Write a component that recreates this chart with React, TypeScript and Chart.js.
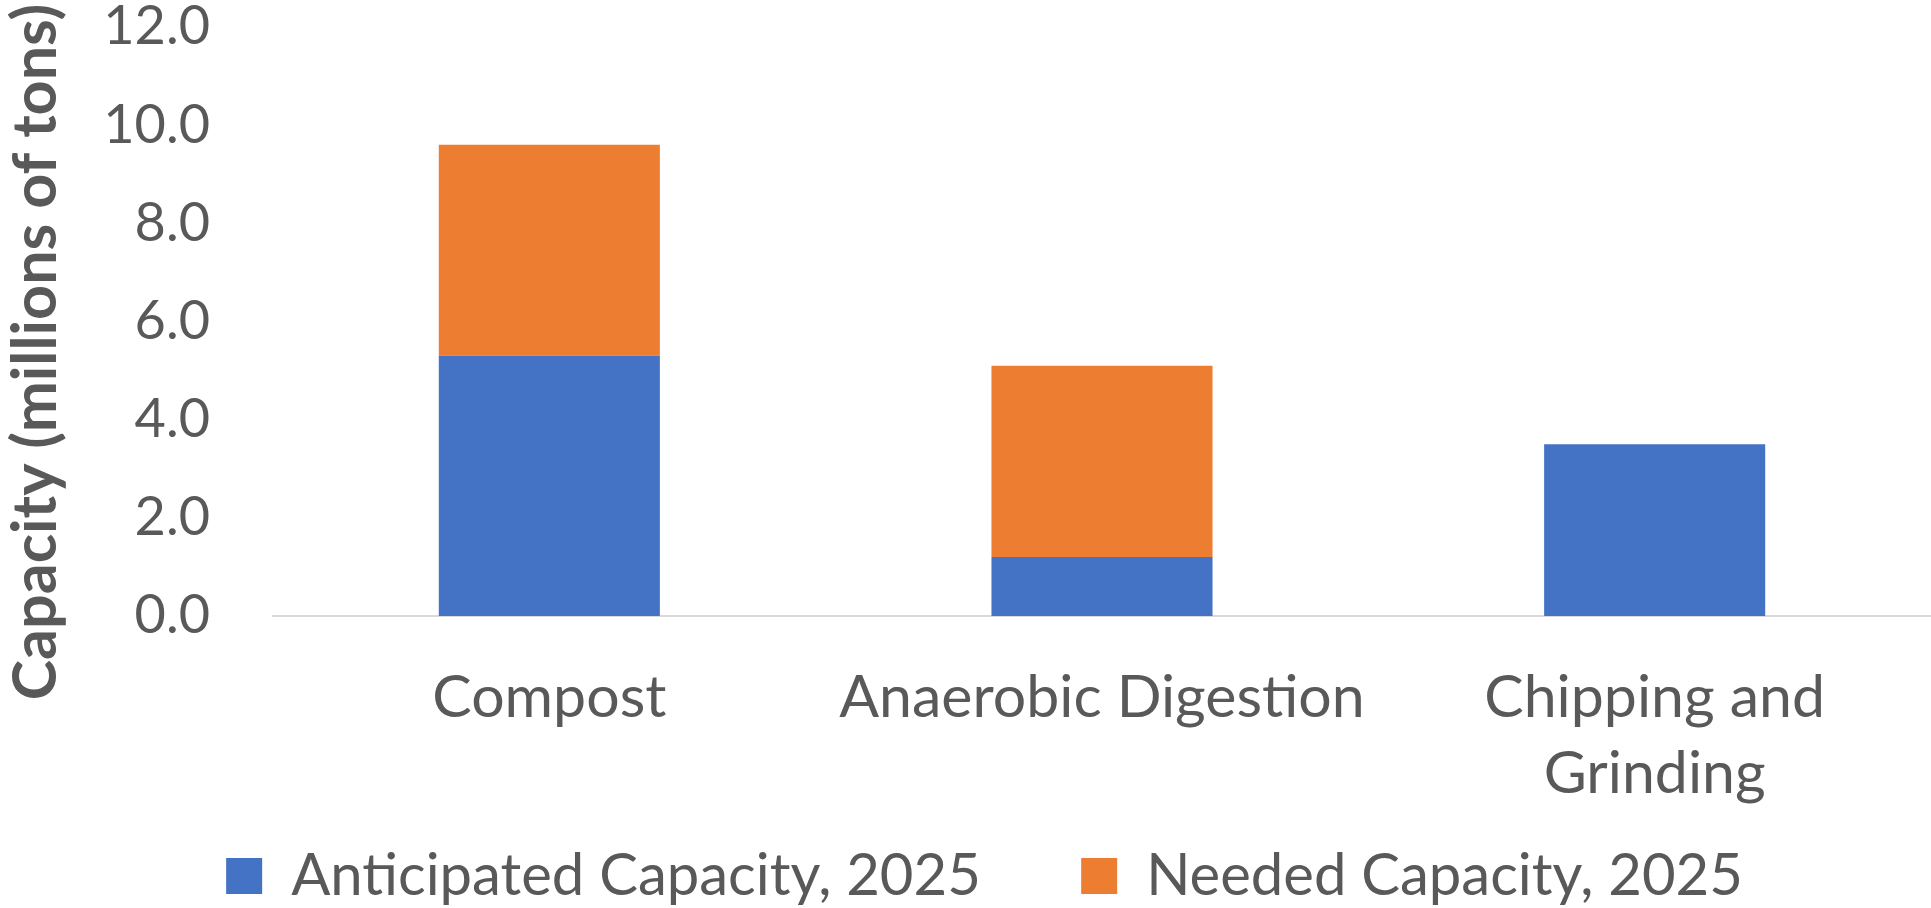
import React, { useEffect, useRef } from "react";
import { Chart, registerables } from "chart.js";

Chart.register(...registerables);

const categories: (string | string[])[] = ["Compost", "Anaerobic Digestion", ["Chipping and", "Grinding"]];
const anticipated = [5.3, 1.2, 3.5];
const needed = [4.3, 3.9, 0];
const seriesNames = ["Anticipated Capacity, 2025", "Needed Capacity, 2025"];
const seriesColors = ["#4472C4", "#ED7D31"];
const yTitle = "Capacity (millions of tons)";
const yMin = 0;
const yMax = 12;
const yStep = 2;

const TEXT = "#595959";
const FONT = "Lato";

const yTitlePlugin = {
  id: "yTitlePlugin",
  afterDraw(chart: any) {
    const ctx = chart.ctx;
    ctx.save();
    ctx.translate(36, 352);
    ctx.rotate(-Math.PI / 2);
    ctx.font = `bold 61px ${FONT}`;
    ctx.fillStyle = TEXT;
    ctx.textAlign = "center";
    ctx.textBaseline = "middle";
    ctx.fillText(yTitle, 0, 0);
    ctx.restore();
  },
};

export default function App() {
  const ref = useRef<HTMLCanvasElement | null>(null);
  useEffect(() => {
    document.body.style.margin = "0";
    const chart = new Chart(ref.current!, {
      type: "bar",
      data: {
        labels: categories as any,
        datasets: [
          { label: seriesNames[0], data: anticipated, backgroundColor: seriesColors[0], borderWidth: 0 },
          { label: seriesNames[1], data: needed, backgroundColor: seriesColors[1], borderWidth: 0 },
        ],
      },
      options: {
        animation: false,
        responsive: false,
        devicePixelRatio: 1,
        layout: { padding: { left: 38, top: 27, right: 0, bottom: -7 } },
        datasets: { bar: { barPercentage: 0.4, categoryPercentage: 1 } },
        plugins: {
          tooltip: { enabled: false },
          legend: {
            position: "bottom",
            labels: {
              color: TEXT,
              font: { family: FONT, size: 58 },
              boxWidth: 36,
              boxHeight: 36,
              padding: 41,
              generateLabels(chart: any) {
                const items = Chart.defaults.plugins.legend.labels.generateLabels(chart);
                return items.map((it: any, i: number) =>
                  i < items.length - 1 ? { ...it, text: it.text + "    " } : it
                );
              },
            },
          },
        },
        scales: {
          x: {
            stacked: true,
            grid: { display: false, drawTicks: false },
            border: { display: true, color: "#D9D9D9", width: 2 },
            ticks: {
              color: TEXT,
              font: { family: FONT, size: 59, lineHeight: 1.29 },
              padding: 44,
              maxRotation: 0,
              autoSkip: false,
            },
            afterFit(scale: any) {
              scale.height = 190;
            },
          },
          y: {
            stacked: true,
            min: yMin,
            max: yMax,
            grid: { display: false, drawTicks: false },
            border: { display: false },
            ticks: {
              stepSize: yStep,
              color: TEXT,
              font: { family: FONT, size: 54, lineHeight: 1.0 },
              padding: 63,
              callback: (v: any) => Number(v).toFixed(1),
            },
            afterFit(scale: any) {
              scale.width = 235;
              scale.paddingTop = 0;
              scale.paddingBottom = 0;
            },
          },
        },
      },
      plugins: [yTitlePlugin],
    });
    return () => chart.destroy();
  }, []);
  return (
    <div style={{ width: 1931, height: 908 }}>
      <canvas ref={ref} width={1931} height={908} />
    </div>
  );
}
